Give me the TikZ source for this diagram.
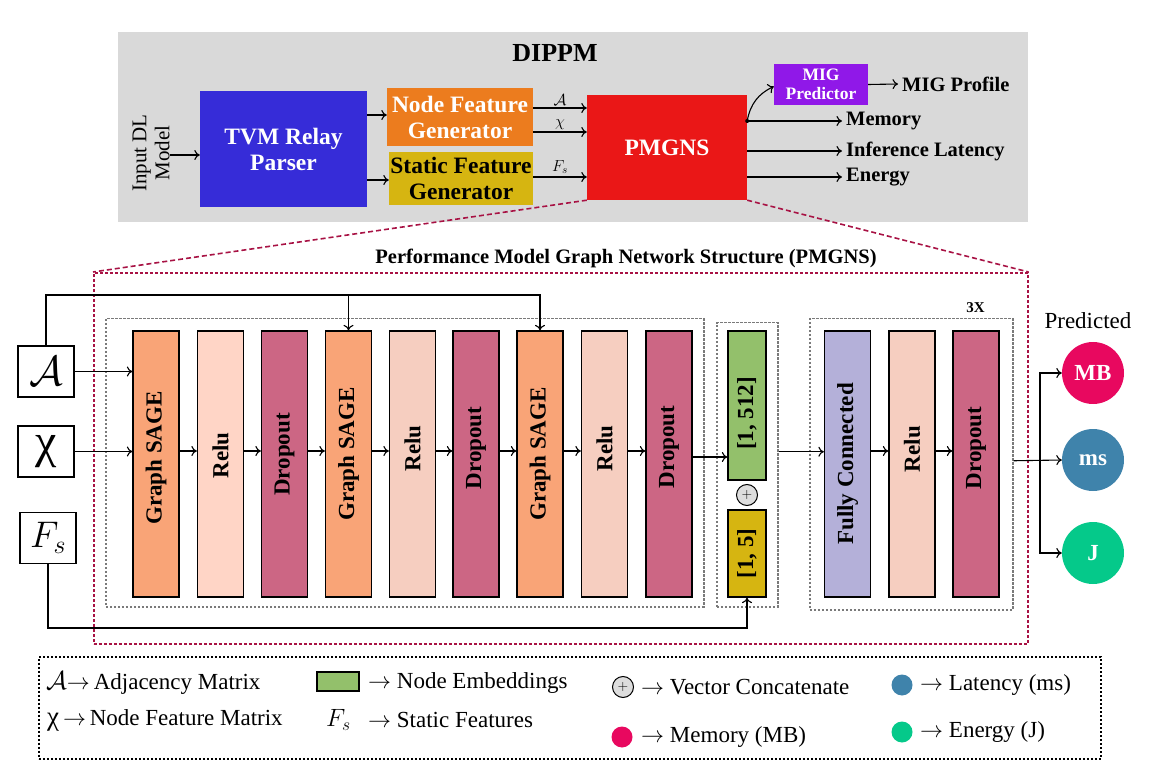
\RequirePackage{fix-cm}
\documentclass[tikz,border=0pt]{standalone}
\usepackage{fontspec}
\setmainfont{Liberation Serif}
\usepackage{graphicx}
\usetikzlibrary{arrows.meta}
\newcommand{\fsz}[2]{\fontsize{#1}{#2}\selectfont}
\newcommand{\vt}[2]{\rotatebox{90}{\hspace*{#1}#2}}
\definecolor{bggray}{HTML}{D9D9D9}
\definecolor{tvmblue}{RGB}{54,44,216}
\definecolor{nfgorange}{RGB}{236,124,30}
\definecolor{sfggold}{RGB}{214,181,17}
\definecolor{pmgred}{RGB}{234,23,23}
\definecolor{migpurple}{RGB}{144,24,232}
\definecolor{gsorange}{HTML}{F9A477}
\definecolor{relua}{HTML}{FFD5C6}
\definecolor{relub}{HTML}{F6CEC0}
\definecolor{dropc}{HTML}{CC6684}
\definecolor{embgreen}{HTML}{93C06B}
\definecolor{fcpurple}{HTML}{B4B0D9}
\definecolor{mbpink}{HTML}{E8085F}
\definecolor{msblue}{HTML}{3F83AB}
\definecolor{jgreen}{HTML}{05C98A}
\definecolor{dred}{HTML}{A81244}
\definecolor{dgray}{HTML}{7A7A7A}
\definecolor{catgray}{HTML}{DDDDDD}
\begin{document}
\begin{tikzpicture}[x=1pt,y=-1pt,
  arr/.style={-{To[length=5.5pt,width=10pt]}, line width=1.1pt},
  topbox/.style={inner sep=0pt, align=center, font=\bfseries\fsz{23.5}{26}},
  blk/.style={draw, line width=1.3pt, minimum width=46pt, minimum height=266pt, inner sep=0pt, font=\bfseries\fsz{23}{27}},
  inbox/.style={draw, line width=1.3pt, fill=white, minimum width=56pt, minimum height=51pt, inner sep=0pt},
  gbox/.style={draw=dgray, line width=1.5pt, dash pattern=on 2.5pt off 1.5pt, inner sep=0pt, anchor=north west},
  outc/.style={circle, minimum size=62pt, inner sep=0pt, text=white, font=\bfseries\fsz{23}{27}},
  outtxt/.style={anchor=west, inner sep=4pt, font=\bfseries\fsz{20.5}{24}},
  leg/.style={anchor=west, inner sep=0pt, font=\fsz{23}{27}},
  legdot/.style={circle, minimum size=21pt, inner sep=0pt},
  catc/.style={circle, draw, line width=1pt, fill=catgray, minimum size=21pt, inner sep=0pt, font=\fsz{14}{16}},
  rdash/.style={dred, line width=1.6pt, dash pattern=on 5pt off 3pt},
  albl/.style={midway, above, inner sep=1.5pt, font=\fsz{16}{18}}
]
\useasboundingbox (0,0) rectangle (1163,778);

% ---------------- DIPPM (top) ----------------
\node[fill=bggray, minimum width=910pt, minimum height=190pt, inner sep=0pt, anchor=north west] (bg) at (118,32) {};
\node[font=\bfseries\fsz{26}{30}] (title) at (555,53) {DIPPM};
\node[rotate=90, align=center, inner sep=0pt, font=\fsz{21}{23}] (inp) at (151,153) {Input DL\\Model};
\node[topbox, fill=tvmblue, text=white, minimum width=167pt, minimum height=116pt] (tvm) at (283.5,149) {TVM Relay\\Parser};
\node[topbox, fill=nfgorange, text=white, minimum width=146pt, minimum height=58pt] (nfg) at (460,117) {Node Feature\\Generator};
\node[topbox, fill=sfggold, minimum width=144pt, minimum height=53pt] (sfg) at (461,178.5) {Static Feature\\Generator};
\node[topbox, fill=pmgred, text=white, minimum width=160pt, minimum height=105pt] (pmg) at (667,147.5) {PMGNS};
\node[topbox, fill=migpurple, text=white, minimum width=94pt, minimum height=41pt, font=\bfseries\fsz{17.5}{19}] (mig) at (821,84.5) {MIG\\Predictor};

\node[outtxt] (migp) at (898,84) {MIG Profile};
\node[outtxt] (mem) at (842,121) {Memory};
\node[outtxt] (lat) at (842,151) {Inference Latency};
\node[outtxt] (ene) at (842,177) {Energy};

\draw[arr] ([yshift=-6pt]tvm.west -| inp.south) -- ([yshift=-6pt]tvm.west);
\draw[arr] ([yshift=2pt]nfg.west -| tvm.east) -- ([yshift=2pt]nfg.west);
\draw[arr] ([yshift=-1.5pt]sfg.west -| tvm.east) -- ([yshift=-1.5pt]sfg.west);
\draw[arr] ([yshift=9pt]nfg.east) -- ([yshift=9pt]nfg.east -| pmg.west)
  node[albl] (la) {$\mathcal{A}$};
\draw[arr] ([yshift=-15pt]nfg.east) -- ([yshift=-15pt]nfg.east -| pmg.west)
  node[albl] (lx) {$\chi$};
\draw[arr] ([yshift=1.5pt]sfg.east) -- ([yshift=1.5pt]sfg.east -| pmg.west)
  node[albl, inner sep=2.5pt] (lf) {$F_s$};

\coordinate (pd) at ([yshift=26.5pt]pmg.east);
\draw[arr] (pd) -- (mem.west);
\draw[arr] (lat.west -| pmg.east) -- (lat.west);
\draw[arr] (ene.west -| pmg.east) -- (ene.west);
\draw[arr] (mig.east) -- (migp.west);
\draw[arr] (pd) to[out=80,in=205] ([yshift=-2pt]mig.west);
\fill (pd) circle[radius=2pt];

% ---------------- PMGNS detail frame ----------------
\node[draw=dred, line width=1.6pt, dash pattern=on 3pt off 2pt, minimum width=934pt, minimum height=371pt, inner sep=0pt, anchor=north west] (pmbox) at (93,272) {};
\draw[rdash] (pmg.south west) -- (pmbox.north west);
\draw[rdash] (pmg.south east) -- (pmbox.north east);
\node[font=\bfseries\fsz{20.5}{24}] (pmtitle) at (626,258) {Performance Model Graph Network Structure (PMGNS)};

% dotted groups
\node[gbox, minimum width=598pt, minimum height=288pt] (box1) at (105,318) {};
\node[gbox, minimum width=61pt, minimum height=284pt] (box2) at (716,322) {};
\node[gbox, minimum width=203pt, minimum height=291pt] (box3) at (809,318) {};
\node[font=\bfseries\fsz{15}{18}] (rep) at (975.5,308) {3X};

% inputs
\node[inbox, font=\fsz{42}{46}] (A) at (46,371.5) {$\mathcal{A}$};
\node[inbox, font=\fsz{48}{50}] (X) at (46,451.5) {χ};
\node[inbox, font=\fsz{37}{40}] (F) at (48,538) {$F_s$};

% layers
\node[blk, fill=gsorange] (g1) at (156,464) {\vt{12pt}{Graph SAGE}};
\node[blk, fill=relua] (r1) at (220.5,464) {\vt{17pt}{Relu}};
\node[blk, fill=dropc] (d1) at (284.5,464) {\vt{19pt}{Dropout}};
\node[blk, fill=gsorange] (g2) at (348.5,464) {\vt{20pt}{Graph SAGE}};
\node[blk, fill=relub] (r2) at (412.5,464) {\vt{31pt}{Relu}};
\node[blk, fill=dropc] (d2) at (476,464) {\vt{32pt}{Dropout}};
\node[blk, fill=gsorange] (g3) at (540,464) {\vt{20pt}{Graph SAGE}};
\node[blk, fill=relub] (r3) at (604.5,464) {\vt{31pt}{Relu}};
\node[blk, fill=dropc] (d3) at (669,464) {\vt{34pt}{Dropout}};

\node[blk, fill=embgreen, minimum width=38pt, minimum height=149pt] (c512) at (747,405.5) {\rotatebox{90}{[1, 512]\hspace*{16pt}}};
\node[catc] (cat) at (747,495) {$+$};
\node[blk, fill=sfggold, minimum width=38pt, minimum height=87pt] (c5) at (747,553.5) {\rotatebox{90}{[1, 5]}};

\node[blk, fill=fcpurple] (fc) at (847.5,464) {\vt{0pt}{Fully Connected}};
\node[blk, fill=relub] (r4) at (912,464) {\vt{30pt}{Relu}};
\node[blk, fill=dropc] (d4) at (976,464) {\vt{32pt}{Dropout}};

% outputs
\node[outc, fill=mbpink] (mb) at (1093,373) {MB};
\node[outc, fill=msblue] (ms) at (1093,460) {ms};
\node[outc, fill=jgreen] (jj) at (1093,553) {J};
\node[font=\fsz{23}{27}] (pred) at (1088,321) {Predicted};

% connectors
\draw[arr] (A.east) -- (A.east -| g1.west);
\draw[arr] (X.east) -- (X.east -| g1.west);
\foreach \a/\b in {g1/r1, r1/d1, d1/g2, g2/r2, r2/d2, d2/g3, g3/r3, r3/d3, fc/r4, r4/d4}
  \draw[arr] ([yshift=13pt]\a.east) -- ([yshift=13pt]\b.west);
\draw[arr] ([yshift=7pt]d3.east) -- ([yshift=7pt]d3.east -| c512.west);
\draw[arr] ([yshift=13pt]box2.east) -- ([yshift=13pt]box2.east -| fc.west);

\coordinate (topl) at (46,295);
\draw[arr] (A.north) -- (topl) -| (g3.north);
\draw[arr] (topl -| g2.north) -- (g2.north);
\coordinate (botl) at (48,628);
\draw[arr] (F.south) -- (botl) -| (c5.south);

\coordinate (split) at (1040,460);
\draw[arr] ([yshift=3.5pt]box3.east) -- (ms.west);
\draw[arr] (split) |- (mb.west);
\draw[arr] (split) |- (jj.west);

% ---------------- legend ----------------
\node[draw, line width=1.5pt, dash pattern=on 2pt off 2pt, minimum width=1062pt, minimum height=102pt, inner sep=0pt, anchor=north west] (legbox) at (38,656) {};
\node[leg] (l1) at (46,683) {{\fsz{26}{28}$\mathcal{A}$}$\rightarrow$\,Adjacency Matrix};
\node[leg] (l2) at (47,720) {{\fsz{27}{28}χ}\,$\rightarrow$\,Node Feature Matrix};
\node[draw, line width=1.3pt, fill=embgreen, minimum width=42pt, minimum height=19pt, inner sep=0pt] (lg) at (338,681.5) {};
\node[leg] (l3) at (368,683) {$\rightarrow$ Node Embeddings};
\node[leg, font=\fsz{25}{27}] (l4f) at (326,720) {$F_s$};
\node[leg] (l4) at (368,720) {$\rightarrow$ Static Features};
\node[catc] (lcat) at (623,687) {$+$};
\node[leg] (l5) at (641,687) {$\rightarrow$ Vector Concatenate};
\node[legdot, fill=mbpink] (lmb) at (622,737) {};
\node[leg] (l6) at (641,737) {$\rightarrow$ Memory (MB)};
\node[legdot, fill=msblue] (lms) at (902,685) {};
\node[leg] (l7) at (920,685) {$\rightarrow$ Latency (ms)};
\node[legdot, fill=jgreen] (lj) at (902,732) {};
\node[leg] (l8) at (920,732) {$\rightarrow$ Energy (J)};
\end{tikzpicture}
\end{document}
